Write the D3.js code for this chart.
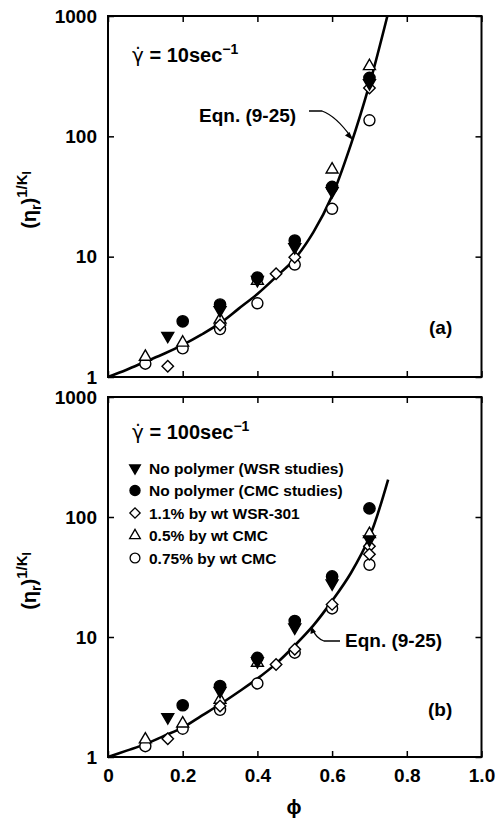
<!DOCTYPE html>
<html>
<head>
<meta charset="utf-8">
<script src="https://cdn.jsdelivr.net/npm/d3@7"></script>
<style>
  body { margin: 0; background: #fff; }
  text { font-family: "Liberation Sans", Arial, sans-serif; fill: #000; font-weight: bold; }
</style>
</head>
<body>
<svg id="chart" width="496" height="820"></svg>
<script>
// axis ticks
var phiTicks = [0, 0.2, 0.4, 0.6, 0.8, 1.0];
var valueTicks = [1, 10, 100, 1000];
var legendLabels = ["No polymer (WSR studies)", "No polymer (CMC studies)",
  "1.1% by wt WSR-301", "0.5% by wt CMC", "0.75% by wt CMC"];

// panel (a), shear rate 10 1/s  -- [phi, value]
var aNoPolyWSR = [[0.16, 2.2], [0.3, 3.6], [0.4, 6.4], [0.5, 12], [0.6, 35], [0.7, 277]];
var aNoPolyCMC = [[0.2, 2.9], [0.3, 4.0], [0.4, 6.7], [0.5, 13.6], [0.6, 38], [0.7, 306]];
var aWSR301 = [[0.16, 1.23], [0.3, 2.7], [0.45, 7.2], [0.5, 9.9], [0.7, 252]];
var aCMC05 = [[0.1, 1.47], [0.2, 1.93], [0.3, 3.0], [0.4, 6.3], [0.6, 53], [0.7, 383]];
var aCMC075 = [[0.1, 1.29], [0.2, 1.73], [0.3, 2.5], [0.4, 4.1], [0.5, 8.6], [0.6, 25], [0.7, 136]];
var aCurvePhi = [0, 0.05, 0.1, 0.15, 0.2, 0.25, 0.3, 0.35, 0.4, 0.45, 0.5, 0.55, 0.6, 0.65, 0.7, 0.748];
var aCurveVal = [1, 1.15, 1.34, 1.56, 1.85, 2.25, 2.8, 3.7, 4.9, 6.8, 9.6, 16, 32, 85, 270, 1000];

// panel (b), shear rate 100 1/s
var bNoPolyWSR = [[0.16, 2.15], [0.3, 3.55], [0.4, 6.3], [0.5, 12], [0.6, 28], [0.7, 65]];
var bNoPolyCMC = [[0.2, 2.7], [0.3, 3.9], [0.4, 6.7], [0.5, 13.6], [0.6, 32], [0.7, 118]];
var bWSR301 = [[0.16, 1.42], [0.3, 2.66], [0.45, 5.9], [0.5, 7.9], [0.6, 18.7], [0.7, 57], [0.7, 49]];
var bCMC05 = [[0.1, 1.4], [0.2, 1.9], [0.3, 3.0], [0.4, 6.1], [0.7, 72]];
var bCMC075 = [[0.1, 1.23], [0.2, 1.72], [0.3, 2.47], [0.4, 4.1], [0.5, 7.4], [0.6, 17.3], [0.7, 40]];
var bCurvePhi = [0, 0.05, 0.1, 0.15, 0.2, 0.25, 0.3, 0.35, 0.4, 0.45, 0.5, 0.55, 0.6, 0.65, 0.7, 0.75];
var bCurveVal = [1, 1.13, 1.28, 1.5, 1.76, 2.2, 2.75, 3.5, 4.5, 6.0, 8.5, 12.5, 20, 34, 68, 205];

var svg = d3.select("#chart");
var x = d3.scaleLinear().domain([0, 1]).range([108, 481.5]);

// marker styles, in legend order
var kinds = [
  { type: d3.symbolTriangle, size: 62, rot: 180, fill: "#000" },
  { type: d3.symbolCircle, size: 100, rot: 0, fill: "#000" },
  { type: d3.symbolSquare, size: 66, rot: 45, fill: "#fff" },
  { type: d3.symbolTriangle, size: 62, rot: 0, fill: "#fff" },
  { type: d3.symbolCircle, size: 95, rot: 0, fill: "#fff" }
];
// draw open marks first, filled ones on top
var drawOrder = [4, 3, 2, 0, 1];

function addMarks(g, pts, k, xs, ys) {
  var s = kinds[k];
  g.selectAll(null)
    .data(pts)
    .enter().append("path")
    .attr("d", d3.symbol().type(s.type).size(s.size))
    .attr("transform", function (d) {
      return "translate(" + xs(d[0]) + "," + ys(d[1]) + ") rotate(" + s.rot + ")";
    })
    .attr("fill", s.fill)
    .attr("stroke", "#000")
    .attr("stroke-width", 1.4);
}

function drawPanel(y, series, curvePhi, curveVal, showX) {
  var g = svg.append("g");
  var top = y.range()[1], bottom = y.range()[0];
  var left = x.range()[0], right = x.range()[1];

  var ax = [
    d3.axisBottom(x).tickValues(phiTicks).tickSize(-6).tickPadding(12)
      .tickFormat(showX ? function (d) { return d === 0 ? "0" : d3.format(".1f")(d); } : ""),
    d3.axisTop(x).tickValues(phiTicks).tickSize(-6).tickFormat(""),
    d3.axisLeft(y).tickValues(valueTicks).tickSize(-6).tickPadding(11).tickFormat(d3.format("d")),
    d3.axisRight(y).tickValues(valueTicks).tickSize(-6).tickFormat("")
  ];
  var pos = ["translate(0," + bottom + ")", "translate(0," + top + ")",
    "translate(" + left + ",0)", "translate(" + right + ",0)"];

  ax.forEach(function (a, i) {
    var ag = g.append("g").attr("transform", pos[i]).call(a);
    ag.select(".domain").remove();
    ag.selectAll(".tick line").attr("stroke-width", 1.5);
    ag.selectAll(".tick text")
      .attr("font-family", "Liberation Sans, Arial, sans-serif")
      .attr("font-size", 19);
  });

  g.append("rect")
    .attr("x", left).attr("y", top)
    .attr("width", right - left).attr("height", bottom - top)
    .attr("fill", "none").attr("stroke", "#000").attr("stroke-width", 2);

  var line = d3.line()
    .x(function (d, i) { return x(curvePhi[i]); })
    .y(function (d) { return y(d); })
    .curve(d3.curveCatmullRom);
  g.append("path")
    .datum(curveVal)
    .attr("d", line)
    .attr("fill", "none").attr("stroke", "#000").attr("stroke-width", 2.6);

  drawOrder.forEach(function (k) { addMarks(g, series[k], k, x, y); });
  return g;
}

function rateLabel(g, xp, yp, rate) {
  var t = g.append("text").attr("x", xp).attr("y", yp).attr("font-size", 20);
  t.append("tspan").attr("font-family", "DejaVu Sans, sans-serif").attr("font-weight", "normal")
    .text("\u03B3\u0307");
  t.append("tspan").text(" = " + rate + "sec");
  t.append("tspan").attr("dy", -8).attr("font-size", 14).text("\u22121");
}

function yLabel(cx, cy) {
  var t = svg.append("text")
    .attr("transform", "translate(" + cx + "," + cy + ") rotate(-90)")
    .attr("text-anchor", "middle").attr("font-size", 20);
  t.append("tspan").text("(\u03B7");
  t.append("tspan").attr("dy", 5).attr("font-size", 14).text("r");
  t.append("tspan").attr("dy", -5).text(")");
  t.append("tspan").attr("dy", -9).attr("font-size", 15).text("1/K");
  t.append("tspan").attr("dy", 4).attr("font-size", 12).text("I");
}

var yTop = d3.scaleLog().domain([1, 1000]).range([377, 16]);
var yBot = d3.scaleLog().domain([1, 1000]).range([757, 397]);

var gA = drawPanel(yTop, [aNoPolyWSR, aNoPolyCMC, aWSR301, aCMC05, aCMC075], aCurvePhi, aCurveVal, false);
var gB = drawPanel(yBot, [bNoPolyWSR, bNoPolyCMC, bWSR301, bCMC05, bCMC075], bCurvePhi, bCurveVal, true);

rateLabel(gA, 132, 62, "10");
rateLabel(gB, 132, 439, "100");

// equation callouts
gA.append("text").attr("x", 199).attr("y", 122).attr("font-size", 19).text("Eqn. (9-25)");
gA.append("path").attr("d", "M309,111 L322,111 Q336,116 351,137")
  .attr("fill", "none").attr("stroke", "#000").attr("stroke-width", 1.3);
gA.append("path").attr("d", "M353,140 L345,135.5 L349.5,132 Z").attr("fill", "#000");

gB.append("text").attr("x", 345).attr("y", 647).attr("font-size", 19).text("Eqn. (9-25)");
gB.append("path").attr("d", "M340,641 L324,641 Q316,638 313,630")
  .attr("fill", "none").attr("stroke", "#000").attr("stroke-width", 1.3);
gB.append("path").attr("d", "M311,626 L310.5,634 L316,632 Z").attr("fill", "#000");

gA.append("text").attr("x", 429).attr("y", 334).attr("font-size", 19).text("(a)");
gB.append("text").attr("x", 428).attr("y", 716).attr("font-size", 19).text("(b)");

// legend
var leg = gB.append("g");
legendLabels.forEach(function (lab, i) {
  var ly = 468 + i * 22.5;
  var s = kinds[i];
  leg.append("path")
    .attr("d", d3.symbol().type(s.type).size(s.size * 0.8))
    .attr("transform", "translate(135," + ly + ") rotate(" + s.rot + ")")
    .attr("fill", s.fill).attr("stroke", "#000").attr("stroke-width", 1.3);
  leg.append("text").attr("x", 149).attr("y", ly).attr("dy", "0.36em")
    .attr("font-size", 15.5).text(lab);
});

yLabel(36, 200);
yLabel(36, 581);

svg.append("text").attr("x", 294).attr("y", 814).attr("text-anchor", "middle")
  .attr("font-size", 20).text("\u03D5");
</script>
</body>
</html>
